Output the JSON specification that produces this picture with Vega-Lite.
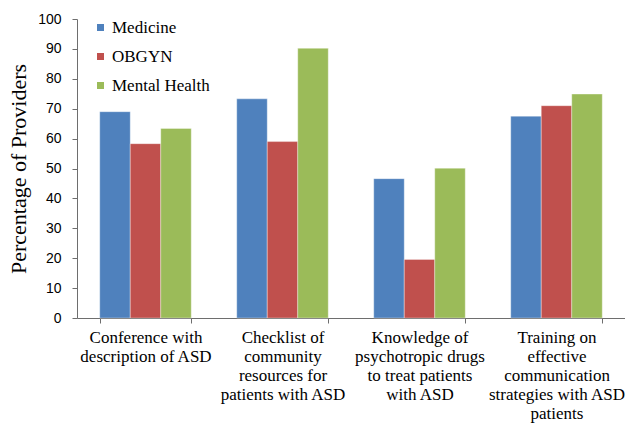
{
  "$schema": "https://vega.github.io/schema/vega-lite/v6.json",
  "autosize": "none",
  "width": 548,
  "height": 299,
  "padding": {"left": 77, "top": 19, "right": 0, "bottom": 106},
  "background": "white",
  "config": {
    "font": "Liberation Serif",
    "view": {"stroke": null},
    "axis": {"grid": false, "domain": true, "ticks": true, "domainColor": "#6e6e6e", "domainWidth": 1, "tickColor": "#6e6e6e", "tickWidth": 1, "labelColor": "black", "titleColor": "black"},
    "legend": {"labelFont": "Liberation Serif", "labelColor": "black"}
  },
  "data": {
    "values": [
      {"item": "Conference with|description of ASD", "group": "Medicine", "pct": 69.0},
      {"item": "Conference with|description of ASD", "group": "OBGYN", "pct": 58.3},
      {"item": "Conference with|description of ASD", "group": "Mental Health", "pct": 63.4},
      {"item": "Checklist of|community|resources for|patients with ASD", "group": "Medicine", "pct": 73.3},
      {"item": "Checklist of|community|resources for|patients with ASD", "group": "OBGYN", "pct": 59.0},
      {"item": "Checklist of|community|resources for|patients with ASD", "group": "Mental Health", "pct": 90.2},
      {"item": "Knowledge of|psychotropic drugs|to treat patients|with ASD", "group": "Medicine", "pct": 46.6},
      {"item": "Knowledge of|psychotropic drugs|to treat patients|with ASD", "group": "OBGYN", "pct": 19.6},
      {"item": "Knowledge of|psychotropic drugs|to treat patients|with ASD", "group": "Mental Health", "pct": 50.1},
      {"item": "Training on|effective|communication|strategies with ASD|patients", "group": "Medicine", "pct": 67.5},
      {"item": "Training on|effective|communication|strategies with ASD|patients", "group": "OBGYN", "pct": 71.0},
      {"item": "Training on|effective|communication|strategies with ASD|patients", "group": "Mental Health", "pct": 74.9}
    ]
  },
  "mark": {"type": "bar", "stroke": "#ffffff", "strokeOpacity": 0.35, "strokeWidth": 1},
  "encoding": {
    "x": {
      "field": "item",
      "type": "nominal",
      "sort": null,
      "scale": {"paddingInner": 0.332, "paddingOuter": 0.166},
      "axis": {
        "title": null,
        "labelAngle": 0,
        "tickBand": "extent",
        "tickSize": 5,
        "labelPadding": 6,
        "labelFont": "Liberation Serif",
        "labelFontSize": 17,
        "labelLineHeight": 19,
        "labelLimit": 300,
        "labelExpr": "split(datum.label, '|')"
      }
    },
    "xOffset": {"field": "group", "type": "nominal", "sort": ["Medicine", "OBGYN", "Mental Health"]},
    "y": {
      "field": "pct",
      "type": "quantitative",
      "scale": {"domain": [0, 100], "nice": false},
      "axis": {
        "title": "Percentage of Providers",
        "titleFont": "Liberation Serif",
        "titleFontSize": 22,
        "titleFontWeight": "normal",
        "titlePadding": 7,
        "values": [0, 10, 20, 30, 40, 50, 60, 70, 80, 90, 100],
        "tickSize": 5,
        "labelPadding": 11,
        "labelFont": "Liberation Sans",
        "labelFontSize": 14
      }
    },
    "color": {
      "field": "group",
      "type": "nominal",
      "sort": ["Medicine", "OBGYN", "Mental Health"],
      "scale": {"domain": ["Medicine", "OBGYN", "Mental Health"], "range": ["#4F81BD", "#C0504D", "#9BBB59"]},
      "legend": {
        "title": null,
        "orient": "none",
        "legendX": 15,
        "legendY": 0,
        "symbolType": "square",
        "symbolSize": 49,
        "symbolStrokeWidth": 0,
        "symbolOpacity": 1,
        "labelFont": "Liberation Serif",
        "labelFontSize": 17,
        "labelOffset": 3,
        "rowPadding": 11
      }
    }
  }
}
